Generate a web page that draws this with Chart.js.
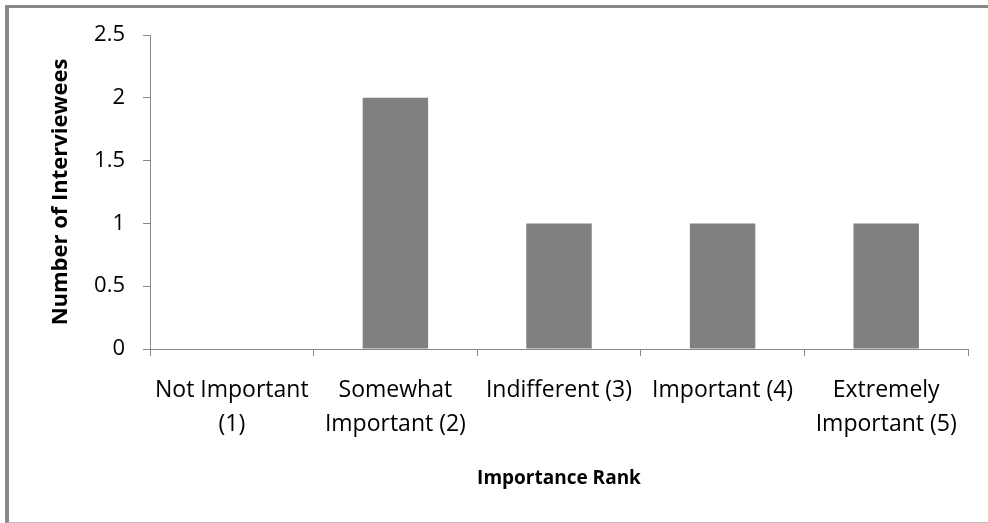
<!DOCTYPE html>
<html>
<head>
<meta charset="utf-8">
<script src="https://cdn.jsdelivr.net/npm/chart.js@4"></script>
<style>
  body { margin: 0; background: #fff; }
  #wrap { position: relative; width: 988px; height: 523px; }
  #frame {
    position: absolute; left: 5px; top: 5px; width: 983px; height: 518px;
    box-sizing: border-box;
    border-left: 4px solid #888; border-top: 3px solid #888; border-bottom: 1px solid #bbb;
  }
  #myChart { position: absolute; left: 0; top: 0; }
</style>
</head>
<body>
<div id="wrap">
  <div id="frame"></div>
  <canvas id="myChart" width="988" height="523"></canvas>
</div>
<script>
// datos
const categories = [
    ['Not Important', '(1)'],
    ['Somewhat', 'Important (2)'],
    'Indifferent (3)',
    'Important (4)',
    ['Extremely', 'Important (5)']
];
const interviewees = [0, 2, 1, 1, 1];
const yTicks = [0, 0.5, 1, 1.5, 2, 2.5];

const axisColor = '#888888';
const fontFamily = '"Open Sans", Lato, sans-serif';

const ctx = document.getElementById('myChart').getContext('2d');

const myChart = new Chart(ctx, {
    type: 'bar',
    data: {
        labels: categories,
        datasets: [{
            label: 'Number of Interviewees',
            data: interviewees,
            backgroundColor: '#808080',
            borderWidth: 0,
            barPercentage: 0.4,
            categoryPercentage: 1
        }]
    },
    options: {
        responsive: false,
        animation: false,
        layout: { padding: { top: 35, right: 20, left: 0, bottom: 0 } },
        plugins: {
            legend: { display: false },
            tooltip: { enabled: false }
        },
        scales: {
            x: {
                afterFit: s => { s.height = 523 - 349; },
                grid: {
                    offset: true,
                    drawOnChartArea: false,
                    drawTicks: true,
                    tickLength: 7,
                    color: axisColor
                },
                border: { color: axisColor },
                ticks: {
                    color: '#000',
                    padding: 17,
                    maxRotation: 0,
                    autoSkip: false,
                    font: { family: fontFamily, size: 23, lineHeight: 1.5 }
                },
                title: {
                    display: true,
                    text: 'Importance Rank',
                    color: '#000',
                    padding: 33,
                    font: { family: fontFamily, size: 19, weight: 'bold' }
                }
            },
            y: {
                min: 0,
                max: 2.5,
                afterFit: s => { s.width = 150; },
                afterBuildTicks: s => { s.ticks = yTicks.map(v => ({ value: v })); },
                grid: {
                    drawOnChartArea: false,
                    drawTicks: true,
                    tickLength: 7,
                    color: axisColor
                },
                border: { color: axisColor },
                ticks: {
                    color: '#000',
                    padding: 18,
                    callback: v => String(v),
                    font: { family: fontFamily, size: 22 }
                },
                title: {
                    display: true,
                    text: 'Number of Interviewees',
                    color: '#000',
                    padding: 48,
                    font: { family: fontFamily, size: 22, weight: 'bold' }
                }
            }
        }
    }
});
</script>
</body>
</html>
